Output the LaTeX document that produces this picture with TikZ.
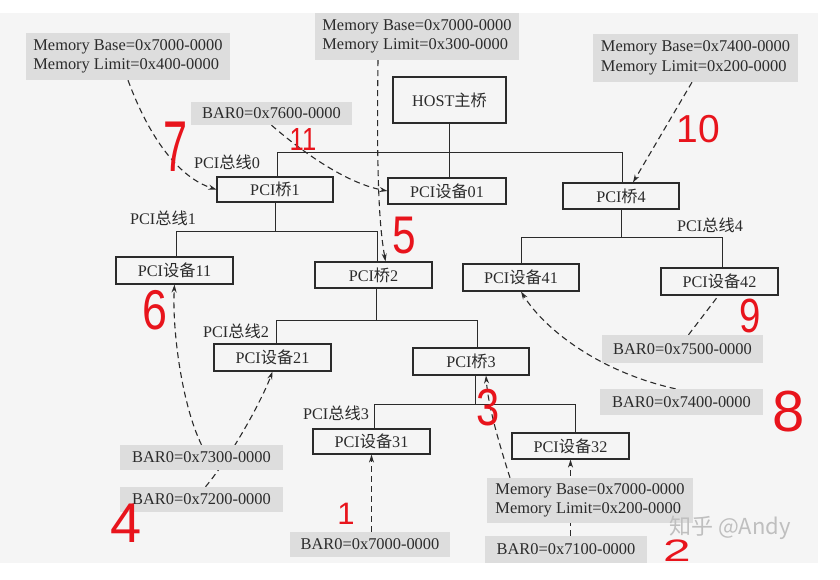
\documentclass[tikz,border=0pt]{standalone}
\usepackage{fontspec}
\setmainfont{Liberation Serif}
\newfontfamily\cjk{Noto Sans CJK SC}
\newfontfamily\hand{Liberation Sans}
\usetikzlibrary{arrows.meta}
\definecolor{ink}{HTML}{2B2B2B}
\definecolor{scan}{HTML}{F5F5F5}
\definecolor{labfill}{HTML}{DDDDDD}
\definecolor{pen}{HTML}{E8141C}
\pgfdeclarelayer{bg}
\pgfsetlayers{bg,main}
\newcommand{\hd}[2]{\scalebox{#1}[1]{#2}}
\begin{document}
\begin{tikzpicture}[x=1pt,y=-1pt,
  box/.style={draw=ink, line width=1.1pt, fill=scan, inner sep=0pt, font=\fontsize{16.2}{18}\selectfont, text=ink},
  lab/.style={fill=labfill, inner sep=0pt, font=\fontsize{16.4}{19.5}\selectfont, text=ink, align=left},
  bus/.style={draw=ink, line width=1pt},
  busname/.style={font=\fontsize{16.2}{18}\selectfont, text=ink, inner sep=0pt},
  link/.style={draw=ink, line width=1.1pt, dash pattern=on 6pt off 4pt},
  linkarrow/.style={link, -{Stealth[length=8pt,width=5pt]}},
  num/.style={text=pen, inner sep=0pt}]
\useasboundingbox (0,0) rectangle (840,579);
\begin{pgfonlayer}{bg}
  \fill[white] (0,0) rectangle (840,579);
  \fill[scan] (0,13) rectangle (818,563);
\end{pgfonlayer}

% boxes
\node[box, minimum width=113pt, minimum height=46pt] (host) at (449.5,100) {HOST{\cjk 主桥}};
\node[box, minimum width=116pt, minimum height=25pt] (b1) at (275,189.5) {PCI{\cjk 桥}1};
\node[box, minimum width=118pt, minimum height=26pt] (d01) at (447,191) {PCI{\cjk 设备}01};
\node[box, minimum width=116pt, minimum height=26pt] (b4) at (621,196) {PCI{\cjk 桥}4};
\node[box, minimum width=117pt, minimum height=27pt] (d11) at (174.5,270.5) {PCI{\cjk 设备}11};
\node[box, minimum width=117pt, minimum height=26pt] (b2) at (373.5,275) {PCI{\cjk 桥}2};
\node[box, minimum width=116pt, minimum height=27pt] (d41) at (521,277.5) {PCI{\cjk 设备}41};
\node[box, minimum width=117pt, minimum height=27pt] (d42) at (719.5,281.5) {PCI{\cjk 设备}42};
\node[box, minimum width=117pt, minimum height=27pt] (d21) at (272.5,357.5) {PCI{\cjk 设备}21};
\node[box, minimum width=116pt, minimum height=27pt] (b3) at (471,361.5) {PCI{\cjk 桥}3};
\node[box, minimum width=117pt, minimum height=25pt] (d31) at (371.5,441.5) {PCI{\cjk 设备}31};
\node[box, minimum width=117pt, minimum height=26pt] (d32) at (570.5,446) {PCI{\cjk 设备}32};

% bus names
\node[busname] (bl0) at (227,162) {PCI{\cjk 总线}0};
\node[busname] (bl1) at (163,218) {PCI{\cjk 总线}1};
\node[busname] (bl4) at (710,225) {PCI{\cjk 总线}4};
\node[busname] (bl2) at (236,331) {PCI{\cjk 总线}2};
\node[busname] (bl3) at (336,413) {PCI{\cjk 总线}3};

% gray labels
\node[lab, minimum width=204pt, minimum height=47pt] (L7) at (128,56.5) {Memory Base=0x7000-0000\\Memory Limit=0x400-0000};
\node[lab, minimum width=204pt, minimum height=47pt] (L5) at (417,36.5) {Memory Base=0x7000-0000\\Memory Limit=0x300-0000};
\node[lab, minimum width=205pt, minimum height=48pt] (L10) at (695.5,58) {Memory Base=0x7400-0000\\Memory Limit=0x200-0000};
\node[lab, minimum width=161pt, minimum height=23pt] (L11) at (271.5,113.5) {BAR0=0x7600-0000};
\node[lab, minimum width=161pt, minimum height=28pt] (L9) at (682.5,349) {BAR0=0x7500-0000};
\node[lab, minimum width=163pt, minimum height=26pt] (L8) at (681.5,402) {BAR0=0x7400-0000};
\node[lab, minimum width=163pt, minimum height=25pt] (L6) at (201.5,457.5) {BAR0=0x7300-0000};
\node[lab, minimum width=163pt, minimum height=25pt] (L4) at (201.5,499.5) {BAR0=0x7200-0000};
\node[lab, minimum width=160pt, minimum height=25pt] (L1) at (370,544.5) {BAR0=0x7000-0000};
\node[lab, minimum width=206pt, minimum height=45pt] (L3) at (590,500.5) {Memory Base=0x7000-0000\\Memory Limit=0x200-0000};
\node[lab, minimum width=162pt, minimum height=27pt] (L2) at (566,549.5) {BAR0=0x7100-0000};

% bus lines
\coordinate (y0) at (0,152);
\coordinate (y1) at (0,231);
\coordinate (y4) at (0,237);
\coordinate (y2) at (0,320);
\coordinate (y3) at (0,404);
\coordinate (b1n) at ([xshift=2pt]b1.north);
\coordinate (b4n) at ([xshift=1pt]b4.north);
\coordinate (b2n) at ([xshift=3.5pt]b2.north);
\coordinate (b2s) at ([xshift=2.5pt]b2.south);
\coordinate (d11n) at ([xshift=1.5pt]d11.north);
\coordinate (d42n) at ([xshift=2.5pt]d42.north);
\coordinate (d21n) at ([xshift=3.5pt]d21.north);
\coordinate (b3n) at ([xshift=6pt]b3.north);
\coordinate (b3s) at ([xshift=4pt]b3.south);
\coordinate (d31n) at ([xshift=2.5pt]d31.north);
\coordinate (d32n) at ([xshift=4.5pt]d32.north);
\draw[bus] (host.south) -- (host.south |- d01.north);
\draw[bus] (b1n) |- (b4n |- y0) -- (b4n);
\draw[bus] (b1.south) -- (b1.south |- y1);
\draw[bus] (d11n) |- (b2n |- y1) -- (b2n);
\draw[bus] (b4.south) -- (b4.south |- y4);
\draw[bus] (d41.north) |- (d42n |- y4) -- (d42n);
\draw[bus] (b2s) -- (b2s |- y2);
\draw[bus] (d21n) |- (b3n |- y2) -- (b3n);
\draw[bus] (b3s) -- (b3s |- y3);
\draw[bus] (d31n) |- (d32n |- y3) -- (d32n);

% dashed connectors
\begin{pgfonlayer}{bg}
\draw[linkarrow] (L7.south) .. controls (150,140) and (180,178) .. (b1.west);
\draw[linkarrow] (L11.south) .. controls (300,150) and (345,183) .. (d01.west);
\draw[linkarrow] ([xshift=-39pt]L5.south) .. controls (376,200) and (381,235) .. ([xshift=12pt]b2.north);
\draw[linkarrow] ([xshift=-3.5pt]L10.south) -- ([xshift=12pt]b4.north);
\draw[linkarrow] ([xshift=-6pt]L8.north) .. controls (600,372) and (545,330) .. (d41.south);
\draw[link] ([xshift=6pt]L9.north) -- ([xshift=-1pt]d42.south);
\draw[linkarrow] (L6.north) .. controls (182,405) and (172,330) .. (d11.south);
\draw[linkarrow] ([xshift=4pt]L4.north) .. controls (232,455) and (262,400) .. (d21.south);
\draw[linkarrow] ([xshift=-80pt]L3.north) .. controls (498,440) and (488,405) .. ([xshift=15pt]b3.south);
\draw[linkarrow] (d32.south |- L2.north) -- (d32.south);
\draw[linkarrow] (d31.south |- L1.north) -- (d31.south);
\end{pgfonlayer}

% handwritten red numbers
\node[num, font=\hand\fontsize{72}{72}\selectfont] (n7) at (176,147) {\hd{0.6}{7}};
\node[num, font=\hand\fontsize{32}{32}\selectfont] (n11) at (303,139) {\hd{0.8}{11}};
\node[num, font=\hand\fontsize{39}{39}\selectfont] (n10) at (698,129) {10};
\node[num, font=\hand\fontsize{53}{53}\selectfont] (n5) at (404,236) {\hd{0.8}{5}};
\node[num, font=\hand\fontsize{56}{56}\selectfont] (n6) at (155,310) {\hd{0.8}{6}};
\node[num, font=\hand\fontsize{48}{48}\selectfont] (n9) at (750,316) {\hd{0.8}{9}};
\node[num, font=\hand\fontsize{52}{52}\selectfont] (n3) at (488,408) {\hd{0.8}{3}};
\node[num, font=\hand\fontsize{58}{58}\selectfont] (n8) at (789,412) {8};
\node[num, font=\hand\fontsize{56}{56}\selectfont] (n4) at (126,523) {4};
\node[num, font=\hand\fontsize{31}{31}\selectfont] (n1) at (346,514) {1};
\node[num, font=\hand\fontsize{31}{31}\selectfont] (n2) at (677,551) {\hd{1.6}{2}};

% watermark
\node[font=\cjk\fontsize{22}{22}\selectfont, text=gray!50, inner sep=0pt] (wm) at (730,528) {知乎 @Andy};
\end{tikzpicture}
\end{document}
